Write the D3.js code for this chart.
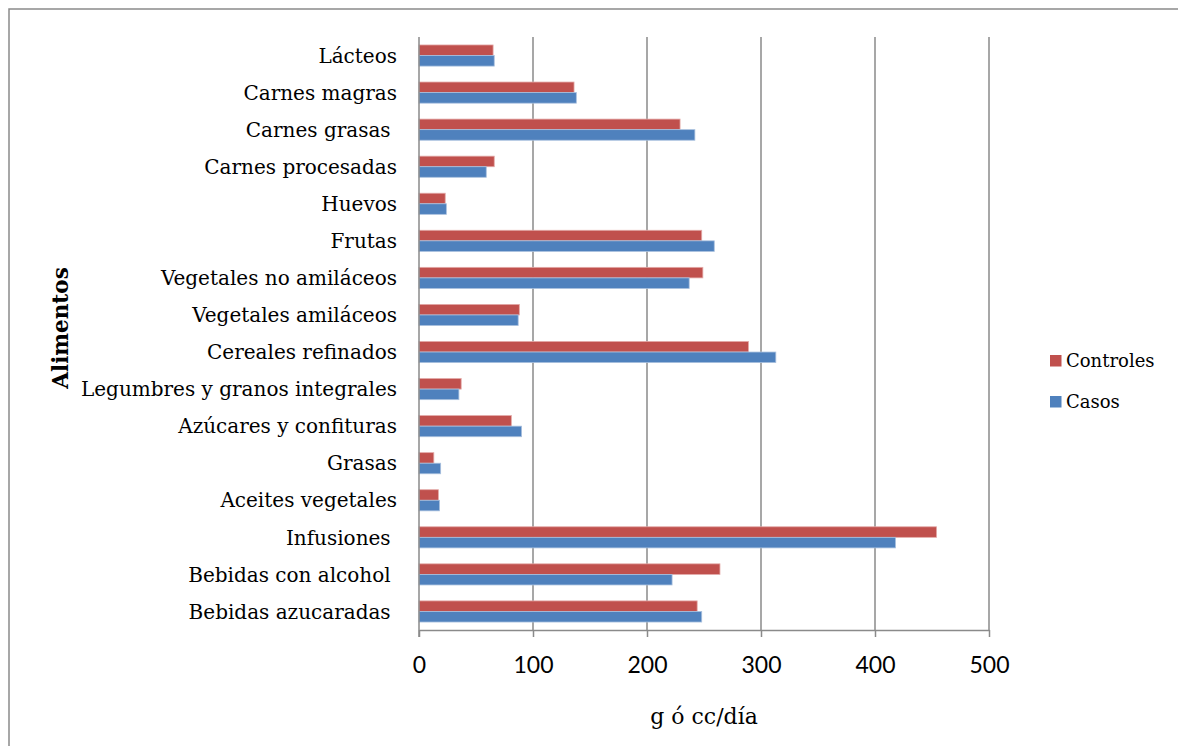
<!DOCTYPE html>
<html>
<head>
<meta charset="utf-8">
<script src="https://cdn.jsdelivr.net/npm/d3@7"></script>
<style>
  html, body { margin: 0; padding: 0; background: #fff; overflow: hidden; }
  svg { display: block; }
  svg text { white-space: pre; }
</style>
</head>
<body>
<svg id="chart" width="1178" height="746"></svg>
<script>
// Consumo medio por grupo de alimentos (g ó cc/día)
const categories = [
  "Lácteos", "Carnes magras", "Carnes grasas ", "Carnes procesadas", "Huevos",
  "Frutas", "Vegetales no amiláceos", "Vegetales amiláceos", "Cereales refinados",
  "Legumbres y granos integrales", "Azúcares y confituras", "Grasas",
  "Aceites vegetales", "Infusiones ", "Bebidas con alcohol ", "Bebidas azucaradas "
];
const controles = [65, 136, 229, 66, 23, 248, 249, 88, 289, 37, 81, 13, 17, 454, 264, 244];
const casos     = [66, 138, 242, 59, 24, 259, 237, 87, 313, 35, 90, 19, 18, 418, 222, 248];
const seriesNames = ["Controles", "Casos"];
const seriesColors = ["#C0504D", "#4F81BD"];
const xTicks = [0, 100, 200, 300, 400, 500];

const svg = d3.select("#chart");
const serif = "'DejaVu Serif', 'Liberation Serif', serif";
const sans = "Lato, 'Open Sans', sans-serif";
const gridColor = "#8a8a8a";

// outer frame: only the top and left edges fall inside the canvas
svg.append("path")
  .attr("d", "M9,760V9H1190")
  .attr("fill", "none").attr("stroke", gridColor).attr("stroke-width", 1.5);

const plot = { left: 419, right: 989, top: 37, bottom: 630 };

const x = d3.scaleLinear().domain([0, 500]).range([plot.left, plot.right]);
const y = d3.scaleBand().domain(categories).range([plot.top, plot.bottom])
  .paddingInner(0.43).paddingOuter(0.215);
const ySub = d3.scaleBand().domain(seriesNames).range([0, y.bandwidth()]);

// vertical gridlines
svg.append("g").selectAll("line")
  .data(xTicks.slice(1))
  .join("line")
  .attr("x1", d => x(d)).attr("x2", d => x(d))
  .attr("y1", plot.top).attr("y2", plot.bottom)
  .attr("stroke", gridColor).attr("stroke-width", 1.5);

// bars
const rows = categories.map((c, i) => ({ cat: c, vals: [controles[i], casos[i]] }));
const groups = svg.append("g").selectAll("g")
  .data(rows)
  .join("g")
  .attr("transform", d => `translate(0,${y(d.cat)})`);
groups.selectAll("rect")
  .data(d => d.vals.map((v, k) => ({ v, k })))
  .join("rect")
  .attr("x", x(0))
  .attr("y", d => ySub(seriesNames[d.k]))
  .attr("width", d => x(d.v) - x(0))
  .attr("height", ySub.bandwidth())
  .attr("fill", d => seriesColors[d.k])
  .attr("stroke", d => d.k === 0 ? "#e3a9a7" : "#a9c0de")
  .attr("stroke-width", 0.8);

// category axis (left)
const yAxis = svg.append("g")
  .attr("transform", `translate(${plot.left},0)`)
  .call(d3.axisLeft(y).tickSize(0).tickPadding(22));
yAxis.select(".domain").attr("stroke", gridColor).attr("stroke-width", 1.5)
  .attr("d", `M0,${plot.top}V${plot.bottom + 7}`);
yAxis.selectAll("text")
  .attr("font-family", serif).attr("font-size", 20).attr("fill", "#000")
  .attr("dy", "0.36em");

// value axis (bottom)
const xAxis = svg.append("g")
  .attr("transform", `translate(0,${plot.bottom})`)
  .call(d3.axisBottom(x).tickValues(xTicks).tickSize(7).tickPadding(20).tickSizeOuter(0));
xAxis.select(".domain").attr("stroke", gridColor).attr("stroke-width", 1.5);
xAxis.selectAll(".tick line").attr("stroke", gridColor).attr("stroke-width", 1.5);
xAxis.selectAll("text")
  .attr("font-family", sans).attr("font-size", 23).attr("fill", "#000");

// axis titles
svg.append("text")
  .attr("x", (plot.left + plot.right) / 2).attr("y", 724)
  .attr("text-anchor", "middle")
  .attr("font-family", serif).attr("font-size", 22).attr("fill", "#000")
  .text("g ó cc/día");

svg.append("text")
  .attr("transform", "translate(68,328) rotate(-90)")
  .attr("text-anchor", "middle")
  .attr("font-family", serif).attr("font-size", 21.5).attr("font-weight", "bold")
  .attr("fill", "#000")
  .text("Alimentos");

// legend
const legend = svg.append("g").selectAll("g")
  .data(seriesNames)
  .join("g")
  .attr("transform", (d, i) => `translate(1050,${355 + i * 41})`);
legend.append("rect")
  .attr("width", 11.5).attr("height", 11.5)
  .attr("fill", (d, i) => seriesColors[i]);
legend.append("text")
  .attr("x", 16).attr("y", 11.5)
  .attr("font-family", serif).attr("font-size", 18).attr("fill", "#000")
  .text(d => d);
</script>
</body>
</html>
